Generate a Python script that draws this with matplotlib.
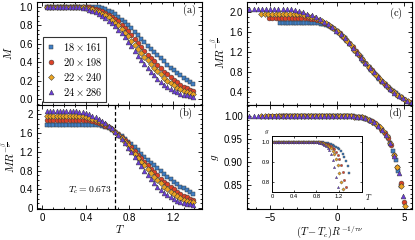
import numpy as np
import matplotlib
matplotlib.use("Agg")
import matplotlib.pyplot as plt
from matplotlib.ticker import AutoMinorLocator, FormatStrFormatter

plt.rcParams['font.family'] = ['Liberation Sans', 'DejaVu Sans']
plt.rcParams['mathtext.fontset'] = 'cm'

# ---------------- data ----------------
labels = [r'$18\times161$', r'$20\times198$', r'$22\times240$', r'$24\times286$']
colors = ['#3f7fc6', '#dd4127', '#eba421', '#6b3ddb']
markers = ['s', 'o', 'D', '^']
Tc = 0.673

T = np.round(np.arange(46) * 0.03 + 0.04, 3)

# scaled magnetisation M R^{-beta/nu} (panel b)
MR_18 = [1.78]*15 + [1.775, 1.765, 1.75, 1.73, 1.70, 1.67, 1.63, 1.58, 1.53, 1.48, 1.42, 1.37, 1.30, 1.23,
                     1.16, 1.10, 1.03, 0.97, 0.91, 0.85, 0.79, 0.73, 0.67, 0.61, 0.56, 0.51, 0.46, 0.42,
                     0.38, 0.34, 0.30]
MR_20 = [1.88]*13 + [1.87, 1.86, 1.84, 1.82, 1.79, 1.76, 1.72, 1.68, 1.63, 1.58, 1.51, 1.45, 1.38, 1.30,
                     1.22, 1.14, 1.06, 0.98, 0.91, 0.84, 0.77, 0.70, 0.63, 0.56, 0.51, 0.45, 0.40, 0.35,
                     0.30, 0.26, 0.23, 0.195, 0.17]
MR_22 = [1.97]*11 + [1.96, 1.95, 1.93, 1.91, 1.88, 1.85, 1.82, 1.79, 1.74, 1.69, 1.63, 1.57, 1.50, 1.42,
                     1.35, 1.25, 1.16, 1.07, 0.99, 0.91, 0.83, 0.75, 0.67, 0.60, 0.53, 0.46, 0.40, 0.35,
                     0.30, 0.25, 0.22, 0.18, 0.155, 0.135, 0.12]
MR_24 = [2.07]*10 + [2.06, 2.05, 2.03, 2.00, 1.97, 1.94, 1.90, 1.86, 1.81, 1.76, 1.70, 1.63, 1.56, 1.48,
                     1.39, 1.29, 1.19, 1.08, 0.98, 0.89, 0.80, 0.70, 0.62, 0.54, 0.46, 0.39, 0.33, 0.28,
                     0.23, 0.19, 0.155, 0.13, 0.11, 0.095, 0.08, 0.065]
MR_all = [MR_18, MR_20, MR_22, MR_24]

# size factors R^{-beta/nu} and R^{1/nu}
R_beta = [1.78, 1.88, 1.97, 2.07]
R_nu = [6.66, 7.96, 8.9, 10.3]

# g (panel d)
g_18 = [1.0]*22 + [1.0, 1.0, 1.0, 0.999, 0.999, 0.999, 0.998, 0.997, 0.996, 0.995, 0.993, 0.990, 0.988,
                   0.984, 0.980, 0.975, 0.969, 0.962, 0.953, 0.941, 0.924, 0.903, 0.880, 0.848]
g_20 = [1.0]*22 + [1.0, 1.0, 1.0, 0.999, 0.999, 0.998, 0.997, 0.996, 0.994, 0.991, 0.988, 0.983, 0.978,
                   0.971, 0.963, 0.951, 0.937, 0.914, 0.888, 0.853, 0.812, 0.778, 0.745, 0.71]
g_22 = [1.0]*22 + [1.0, 1.0, 0.999, 0.999, 0.998, 0.997, 0.996, 0.994, 0.990, 0.986, 0.981, 0.975, 0.967,
                   0.955, 0.941, 0.915, 0.888, 0.848, 0.803, 0.767, 0.73, 0.69, 0.655, 0.615]
g_24 = [1.0]*22 + [1.0, 1.0, 0.999, 0.999, 0.998, 0.996, 0.994, 0.990, 0.985, 0.978, 0.969, 0.957, 0.941,
                   0.912, 0.875, 0.826, 0.78, 0.735, 0.69, 0.65, 0.605, 0.56, 0.52, 0.48]
g_all = [g_18, g_20, g_22, g_24]

# ---------------- figure ----------------
fig = plt.figure(figsize=(4.15, 2.4), dpi=100)
W, H = 415, 240
def rect(x0, y0, x1, y1):
    return [x0 / W, 1 - y1 / H, (x1 - x0) / W, (y1 - y0) / H]

ax_a = fig.add_axes(rect(37, 2, 202, 105))
ax_b = fig.add_axes(rect(37, 105, 202, 209))
ax_c = fig.add_axes(rect(247, 2, 412, 105))
ax_d = fig.add_axes(rect(247, 105, 412, 209))

tick_fs = 7
ms = 3.5
mkw = dict(linestyle='none', markeredgecolor='#3a3a3a', markeredgewidth=0.35)

def style(ax, xminor, yminor):
    ax.tick_params(which='both', direction='in', top=True, right=True, labelsize=tick_fs, width=0.6, pad=3)
    ax.tick_params(which='major', length=3)
    ax.tick_params(which='minor', length=1.5)
    ax.xaxis.set_minor_locator(AutoMinorLocator(xminor))
    ax.yaxis.set_minor_locator(AutoMinorLocator(yminor))
    for s in ax.spines.values():
        s.set_linewidth(0.8)

for i in range(4):
    mr = np.array(MR_all[i])
    M = mr / R_beta[i]
    x = (T - Tc) * R_nu[i]
    kw = dict(marker=markers[i], color=colors[i], markersize=ms if markers[i] != 'D' else ms * 0.85, **mkw)
    ax_a.plot(T, M, label=labels[i], **kw)
    ax_b.plot(T, mr, **kw)
    ax_c.plot(x, mr, **kw)
    ax_d.plot(x, g_all[i], **kw)

# panel a
ax_a.set_xlim(-0.05, 1.47)
ax_a.set_ylim(-0.06, 1.05)
ax_a.set_xticks([0, 0.4, 0.8, 1.2])
ax_a.set_yticks([0.0, 0.2, 0.4, 0.6, 0.8, 1.0])
ax_a.yaxis.set_major_formatter(FormatStrFormatter('%.1f'))
ax_a.tick_params(labelbottom=False)
style(ax_a, 4, 4)
ax_a.set_ylabel(r'$M$', fontsize=8, labelpad=4)
ax_a.text(0.92, 0.92, r'$\mathrm{(a)}$', transform=ax_a.transAxes, fontsize=7.5, ha='center', va='center')
leg = ax_a.legend(loc='lower left', bbox_to_anchor=(0.035, 0.03), borderaxespad=0, fontsize=7.5,
                  frameon=True, fancybox=False, edgecolor='black', handlelength=0.8,
                  handletextpad=0.7, labelspacing=0.28, borderpad=0.4, markerscale=1.0)
leg.get_frame().set_linewidth(0.8)

# panel b
ax_b.set_xlim(-0.05, 1.47)
ax_b.set_ylim(-0.02, 2.2)
ax_b.set_xticks([0, 0.4, 0.8, 1.2])
ax_b.set_xticklabels(['0', '0.4', '0.8', '1.2'])
ax_b.set_yticks([0, 0.4, 0.8, 1.2, 1.6, 2.0])
ax_b.set_yticklabels(['0', '0.4', '0.8', '1.2', '1.6', '2'])
style(ax_b, 4, 4)
ax_b.axvline(Tc, color='black', linestyle=(0, (3, 2)), linewidth=0.9, zorder=0)
ax_b.text(Tc - 0.03, 0.38, r'$T_c=0.673$', fontsize=7, ha='right', va='center')
ax_b.set_xlabel(r'$T$', fontsize=8, labelpad=0)
ax_b.set_ylabel(r'$MR^{-\frac{\beta}{\nu}}$', fontsize=8, labelpad=2)
ax_b.text(0.9, 0.92, r'$\mathrm{(b)}$', transform=ax_b.transAxes, fontsize=7.5, ha='center', va='center')

# panel c
ax_c.set_xlim(-6.7, 5.6)
ax_c.set_ylim(0.14, 2.21)
ax_c.set_xticks([-5, 0, 5])
ax_c.set_yticks([0.4, 0.8, 1.2, 1.6, 2.0])
ax_c.yaxis.set_major_formatter(FormatStrFormatter('%.1f'))
ax_c.tick_params(labelbottom=False)
style(ax_c, 5, 4)
ax_c.set_ylabel(r'$MR^{-\frac{\beta}{\nu}}$', fontsize=8, labelpad=2)
ax_c.text(0.9, 0.89, r'$\mathrm{(c)}$', transform=ax_c.transAxes, fontsize=7.5, ha='center', va='center')

# panel d
ax_d.set_xlim(-6.7, 5.6)
ax_d.set_ylim(0.797, 1.023)
ax_d.set_xticks([-5, 0, 5])
ax_d.set_yticks([0.85, 0.90, 0.95, 1.00])
ax_d.yaxis.set_major_formatter(FormatStrFormatter('%.2f'))
style(ax_d, 5, 5)
ax_d.set_xlabel(r'$(T-T_c)R^{-1/\tau\nu}$', fontsize=7.5, labelpad=0)
ax_d.set_ylabel(r'$g$', fontsize=8, labelpad=2)
ax_d.text(0.9, 0.92, r'$\mathrm{(d)}$', transform=ax_d.transAxes, fontsize=7.5, ha='center', va='center')

# inset
ax_in = fig.add_axes(rect(272, 136, 362, 192))
for i in range(4):
    kw = dict(marker=markers[i], color=colors[i], markersize=1.7, linestyle='none',
              markeredgecolor='#3a3a3a', markeredgewidth=0.25)
    ax_in.plot(T, g_all[i], **kw)
ax_in.set_xlim(0, 1.62)
ax_in.set_ylim(0.753, 1.028)
ax_in.set_xticks([0, 0.4, 0.8, 1.2])
ax_in.set_xticklabels(['0', '0.4', '0.8', '1.2'])
ax_in.set_yticks([0.8, 0.9, 1.0])
ax_in.yaxis.set_major_formatter(FormatStrFormatter('%.1f'))
ax_in.tick_params(which='both', direction='in', top=True, right=True, labelsize=4.2, width=0.5, pad=1.5, length=1.5)
for s in ax_in.spines.values():
    s.set_linewidth(0.7)
ax_in.text(-0.03, 1.08, r'$g$', transform=ax_in.transAxes, fontsize=5, ha='right', va='center')
ax_in.text(1.03, -0.09, r'$T$', transform=ax_in.transAxes, fontsize=5.5, ha='left', va='center')

fig.savefig('out.png', dpi=100)
